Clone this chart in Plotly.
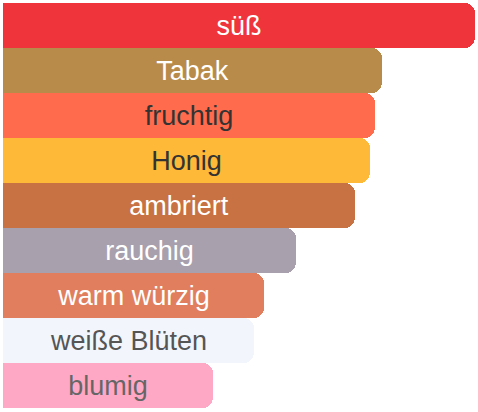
import plotly.graph_objects as go

aromen = ["süß", "Tabak", "fruchtig", "Honig", "ambriert", "rauchig",
          "warm würzig", "weiße Blüten", "blumig"]
werte = [100, 80.4, 78.9, 77.8, 74.6, 62.1, 55.2, 53.1, 44.4]

farben = ["#EF343C", "#B98B4A", "#FF6B4D", "#FDB937", "#C87143",
          "#A8A0AD", "#E07E5E", "#F2F6FC", "#FFA8C6"]
textfarben = ["#ffffff", "#ffffff", "#333333", "#333333", "#ffffff",
              "#ffffff", "#ffffff", "#555555", "#666666"]

fig = go.Figure()
fig.add_trace(go.Bar(
    x=werte,
    y=aromen,
    orientation="h",
    marker=dict(color=farben, line=dict(width=0)),
    text=aromen,
    textposition="inside",
    insidetextanchor="middle",
    textfont=dict(color=textfarben, size=27, family="Liberation Sans, Arial"),
    hoverinfo="skip",
))

fig.update_layout(
    width=478,
    height=412,
    margin=dict(l=3, r=3, t=3, b=4),
    paper_bgcolor="white",
    plot_bgcolor="white",
    bargap=0,
    barcornerradius=10,
    showlegend=False,
    xaxis=dict(range=[0, 100], visible=False),
    yaxis=dict(autorange="reversed", visible=False),
)

# body-Rand des Browsers entfernen, damit die Grafik bei (0,0) beginnt
fig.write_html("out.html",
               config={"displayModeBar": False},
               post_script="document.body.style.margin='0';")
